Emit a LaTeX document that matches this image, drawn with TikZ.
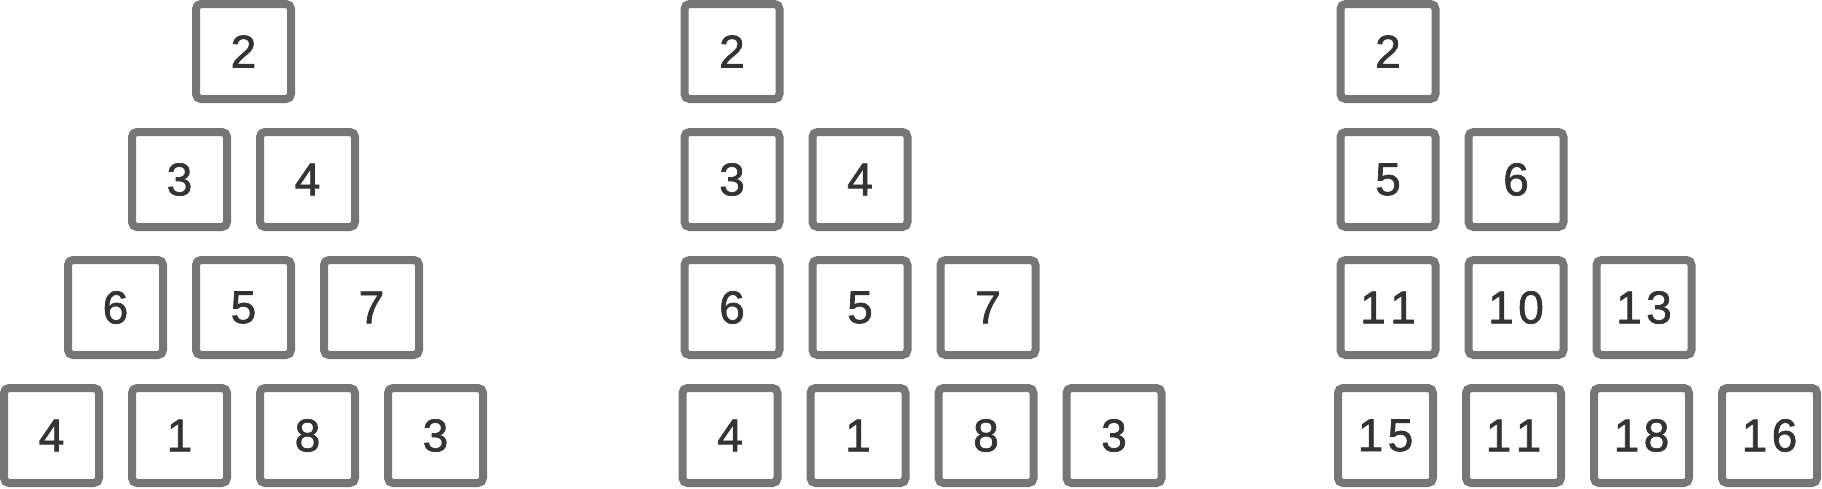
\documentclass[tikz,border=0pt]{standalone}
\usepackage{fontspec}
\newfontfamily\digitfont[FakeBold=1.5]{Liberation Sans}
\definecolor{boxgray}{HTML}{767676}
\definecolor{digitgray}{HTML}{333333}
\newcommand\twodig[2]{#1\kern4.5pt#2}
\begin{document}
\begin{tikzpicture}[x=1pt,y=-1pt,
  cell/.style={draw=boxgray, line width=8pt, rounded corners=5pt, minimum size=95pt, inner sep=0pt,
    text=digitgray, font=\digitfont\fontsize{46pt}{46pt}\selectfont}]
\useasboundingbox (0,0) rectangle (1822,488);
% left pyramid
\node[cell] (a1) at (243.5,51.5) {2};
\node[cell] (a2) at (179.5,179.5) {3};
\node[cell] (a3) at (307.5,179.5) {4};
\node[cell] (a4) at (115.5,307.5) {6};
\node[cell] (a5) at (243.5,307.5) {5};
\node[cell] (a6) at (371.5,307.5) {7};
\node[cell] (a7) at (51.5,435.5) {4};
\node[cell] (a8) at (179.5,435.5) {1};
\node[cell] (a9) at (307.5,435.5) {8};
\node[cell] (a10) at (435.5,435.5) {3};
% middle staircase
\node[cell] (b1) at (732,51.5) {2};
\node[cell] (b2) at (732,179.5) {3};
\node[cell] (b3) at (860,179.5) {4};
\node[cell] (b4) at (732,307.5) {6};
\node[cell] (b5) at (860,307.5) {5};
\node[cell] (b6) at (988,307.5) {7};
\node[cell] (b7) at (730,435.5) {4};
\node[cell] (b8) at (858,435.5) {1};
\node[cell] (b9) at (986,435.5) {8};
\node[cell] (b10) at (1114,435.5) {3};
% right staircase
\node[cell] (c1) at (1388,51.5) {2};
\node[cell] (c2) at (1388,179.5) {5};
\node[cell] (c3) at (1516,179.5) {6};
\node[cell] (c4) at (1388,307.5) {\twodig11};
\node[cell] (c5) at (1516,307.5) {\twodig10};
\node[cell] (c6) at (1644,307.5) {\twodig13};
\node[cell] (c7) at (1385.5,435.5) {\twodig15};
\node[cell] (c8) at (1513.5,435.5) {\twodig11};
\node[cell] (c9) at (1641.5,435.5) {\twodig18};
\node[cell] (c10) at (1769.5,435.5) {\twodig16};
\end{tikzpicture}
\end{document}
